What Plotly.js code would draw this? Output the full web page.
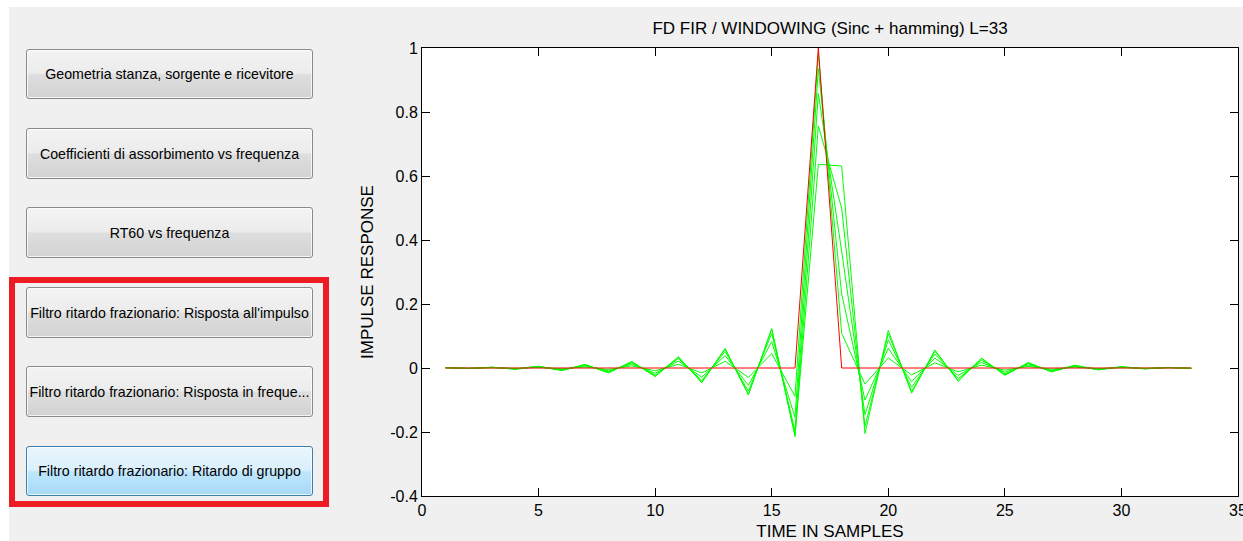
<!DOCTYPE html>
<html>
<head>
<meta charset="utf-8">
<script src="https://cdn.plot.ly/plotly-3.0.1.min.js"></script>
<style>
  html, body { margin:0; padding:0; background:#ffffff; }
  body { width:1243px; height:541px; overflow:hidden; position:relative; }
  #bg { position:absolute; left:9px; top:7px; width:1234px; height:534px; background:#f0f0f0; }
  #plot { position:absolute; left:9px; top:7px; width:1234px; height:534px; }
  .btn {
    position:absolute; left:26px; width:287px; height:51px; box-sizing:border-box;
    border:1px solid #8a8a8a; border-radius:3px;
    background:linear-gradient(to bottom,#f3f3f3 0%,#ececec 48%,#dedede 52%,#d2d2d2 100%);
    box-shadow: inset 0 0 0 1px rgba(255,255,255,0.75);
    display:flex; align-items:center; justify-content:center;
    font-family:'Liberation Sans', Arial, sans-serif; font-size:14.2px; color:#000;
    white-space:nowrap; overflow:hidden; z-index:3;
  }
  .btn.hot {
    border-color:#3c7fb1;
    background:linear-gradient(to bottom,#eaf6fd 0%,#d9f0fc 48%,#bee6fd 52%,#a7d9f5 100%);
  }
  #frame { position:absolute; left:9px; top:277px; width:320px; height:230px; box-sizing:border-box;
    border:6px solid #ed1c24; z-index:2; }
</style>
</head>
<body>
<div id="bg"></div>
<div id="plot"></div>
<div id="frame"></div>
<div class="btn" style="top:49px;height:50px;">Geometria stanza, sorgente e ricevitore</div>
<div class="btn" style="top:128px;">Coefficienti di assorbimento vs frequenza</div>
<div class="btn" style="top:207px;">RT60 vs frequenza</div>
<div class="btn" style="top:287px;">Filtro ritardo frazionario: Risposta all'impulso</div>
<div class="btn" style="top:366px;">Filtro ritardo frazionario: Risposta in freque...</div>
<div class="btn hot" style="top:446px;height:50px;">Filtro ritardo frazionario: Ritardo di gruppo</div>
<script>
// ---- data ----
const samples = [1,2,3,4,5,6,7,8,9,10,11,12,13,14,15,16,17,18,19,20,21,22,23,24,25,26,27,28,29,30,31,32,33];

const delay01 = [0.0005,-0.0006,0.0008,-0.0012,0.0018,-0.0025,0.0035,-0.0049,0.0066,-0.0087,0.0116,-0.0153,0.0208,-0.0293,0.0452,-0.0886,0.9836,0.1083,-0.0500,0.0313,-0.0218,0.0160,-0.0119,0.0090,-0.0067,0.0050,-0.0036,0.0026,-0.0018,0.0012,-0.0008,0.0006,-0.0005];
const delay02 = [0.0009,-0.0011,0.0015,-0.0022,0.0033,-0.0048,0.0067,-0.0092,0.0123,-0.0164,0.0216,-0.0286,0.0386,-0.0539,0.0821,-0.1545,0.9355,0.2318,-0.1003,0.0616,-0.0426,0.0310,-0.0231,0.0173,-0.0130,0.0096,-0.0070,0.0049,-0.0034,0.0023,-0.0016,0.0011,-0.0010];
const delay03 = [0.0013,-0.0015,0.0021,-0.0031,0.0045,-0.0065,0.0091,-0.0125,0.0168,-0.0222,0.0293,-0.0387,0.0518,-0.0720,0.1080,-0.1963,0.8584,0.3646,-0.1462,0.0880,-0.0602,0.0436,-0.0324,0.0242,-0.0181,0.0133,-0.0097,0.0069,-0.0047,0.0032,-0.0022,0.0016,-0.0013];
const delay04 = [0.0015,-0.0018,0.0024,-0.0036,0.0052,-0.0076,0.0106,-0.0145,0.0195,-0.0258,0.0339,-0.0446,0.0595,-0.0821,0.1217,-0.2143,0.7568,0.5001,-0.1826,0.1074,-0.0728,0.0524,-0.0387,0.0289,-0.0215,0.0159,-0.0115,0.0081,-0.0056,0.0038,-0.0026,0.0018,-0.0016];
const delay05 = [0.0015,-0.0018,0.0025,-0.0037,0.0055,-0.0079,0.0110,-0.0151,0.0202,-0.0267,0.0351,-0.0460,0.0612,-0.0839,0.1229,-0.2103,0.6366,0.6310,-0.2048,0.1175,-0.0787,0.0563,-0.0414,0.0308,-0.0229,0.0169,-0.0122,0.0086,-0.0059,0.0040,-0.0027,0.0020,-0.0016];
const idealImpulse = [0,0,0,0,0,0,0,0,0,0,0,0,0,0,0,0,1,0,0,0,0,0,0,0,0,0,0,0,0,0,0,0,0];

const xTickVals = [0,5,10,15,20,25,30,35];
const xTickText = ['0','5','10','15','20','25','30','35'];
const yTickVals = [-0.4,-0.2,0,0.2,0.4,0.6,0.8,1];
const yTickText = ['-0.4','-0.2','0','0.2','0.4','0.6','0.8','1'];

const greenSeries = [delay01, delay02, delay03, delay04, delay05];

const traces = greenSeries.map(ys => ({
  x: samples, y: ys, type:'scatter', mode:'lines',
  line:{color:'#00ff00', width:1}, hoverinfo:'skip'
}));
traces.push({
  x: samples, y: idealImpulse, type:'scatter', mode:'lines',
  line:{color:'#ff0000', width:1}, hoverinfo:'skip'
});

const axisCommon = {
  ticks:'inside', ticklen:8, tickwidth:1, tickcolor:'#000',
  showline:true, linecolor:'#000', linewidth:1, mirror:'ticks',
  showgrid:false, zeroline:false, fixedrange:true,
  ticklabeloverflow:'allow',
  tickfont:{size:16, color:'#000'}
};

const layout = {
  width:1234, height:534,
  margin:{l:413, r:5, t:41, b:45, pad:0},
  paper_bgcolor:'#f0f0f0', plot_bgcolor:'#ffffff',
  showlegend:false,
  font:{family:'Liberation Sans, Arial, sans-serif', color:'#000', size:16},
  title:{text:'FD FIR / WINDOWING (Sinc + hamming) L=33', font:{size:17, color:'#000'},
         xref:'paper', x:0.5, xanchor:'center', yref:'container', y:0.9607, yanchor:'middle'},
  xaxis:Object.assign({}, axisCommon, {
    range:[0,35], tickmode:'array', tickvals:xTickVals, ticktext:xTickText,
    title:{text:'TIME IN SAMPLES', font:{size:17}, standoff:6}
  }),
  yaxis:Object.assign({}, axisCommon, {
    range:[-0.4,1], tickmode:'array', tickvals:yTickVals, ticktext:yTickText,
    title:{text:'IMPULSE RESPONSE', font:{size:17}, standoff:12}
  })
};

Plotly.newPlot('plot', traces, layout, {displayModeBar:false, staticPlot:true});
</script>
</body>
</html>
